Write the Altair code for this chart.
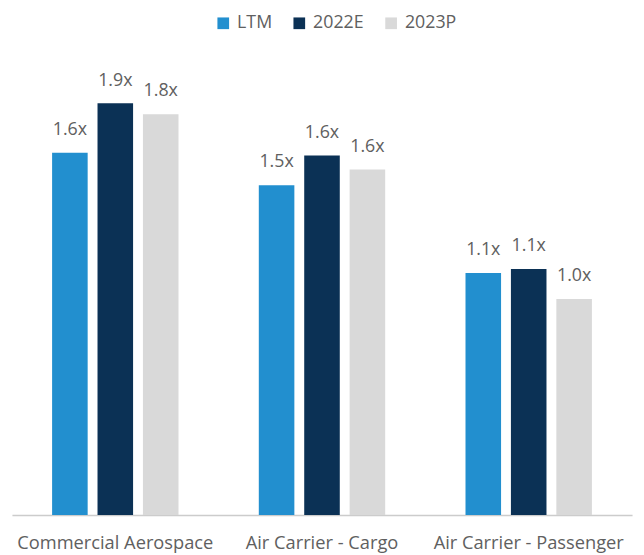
import altair as alt
import pandas as pd

categories = ["Commercial Aerospace", "Air Carrier - Cargo", "Air Carrier - Passenger"]
series = ["LTM", "2022E", "2023P"]
values = {
    "LTM":   [1.668, 1.518, 1.114],
    "2022E": [1.895, 1.655, 1.132],
    "2023P": [1.845, 1.591, 0.995],
}
labels = {
    "LTM":   ["1.6x", "1.5x", "1.1x"],
    "2022E": ["1.9x", "1.6x", "1.1x"],
    "2023P": ["1.8x", "1.6x", "1.0x"],
}
colors = ["#228FCF", "#0B3155", "#D9D9D9"]

rows = []
for s in series:
    for i, c in enumerate(categories):
        rows.append({"category": c, "series": s, "value": values[s][i], "label": labels[s][i]})
df = pd.DataFrame(rows)

FONT = "Open Sans"
GRAY = "#606060"

x = alt.X("category:N", sort=categories,
          scale=alt.Scale(paddingInner=0, paddingOuter=0),
          axis=alt.Axis(title=None, labelAngle=0, ticks=False, labelPadding=19,
                        labelFontSize=18.5, labelFont=FONT, labelColor=GRAY,
                        labelLimit=0, labelFontWeight="normal",
                        domainColor="#CCCCCC", domainWidth=1.5))
xo = alt.XOffset("series:N", sort=series,
                 scale=alt.Scale(paddingInner=0.217, paddingOuter=0.884))
y = alt.Y("value:Q", scale=alt.Scale(domain=[0, 2.0]), axis=None)

bars = alt.Chart(df).mark_bar().encode(
    x=x, xOffset=xo, y=y,
    color=alt.Color("series:N", sort=series,
                    scale=alt.Scale(domain=series, range=colors),
                    legend=alt.Legend(title=None, orient="none", direction="horizontal",
                                      legendX=205, legendY=-67, symbolType="square",
                                      symbolSize=140, symbolStrokeWidth=0,
                                      labelFontSize=18, labelFont=FONT, labelColor=GRAY,
                                      columnPadding=18, labelOffset=5)),
)

text = alt.Chart(df).mark_text(baseline="alphabetic", dy=-18, fontSize=18,
                               font=FONT, color=GRAY).encode(
    x=x, xOffset=xo, y=y, text="label:N"
)

chart = (bars + text).properties(
    width=628, height=440,
    padding={"left": 4, "top": 70, "right": 4, "bottom": 37},
    autosize=alt.AutoSizeParams(type="none"),
).configure_view(stroke=None).configure_axis(grid=False)

chart.save("out.html", embed_options={"renderer": "svg", "actions": False})
